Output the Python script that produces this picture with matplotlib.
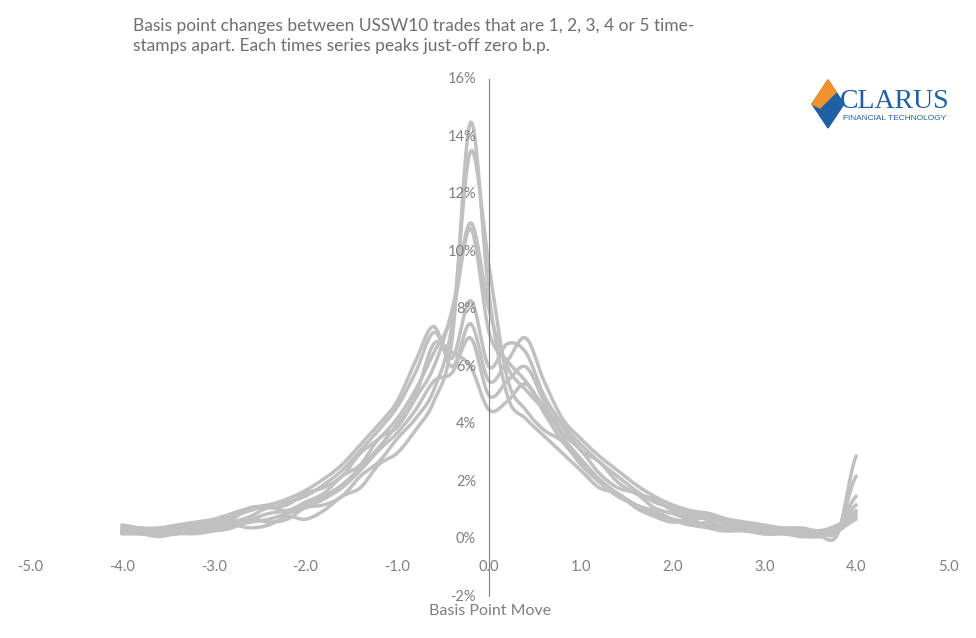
import numpy as np
import matplotlib
matplotlib.use("Agg")
import matplotlib.pyplot as plt
from matplotlib.patches import Polygon

x = [round(-4.0 + 0.2 * i, 1) for i in range(41)]

s1 = [0.2,0.2,0.1,0.2,0.2,0.3,0.5,0.4,0.5,0.8,0.7,1.0,1.5,1.8,2.6,3.0,3.8,4.8,7.0,14.5,8.5,5.0,4.2,3.6,3.0,2.4,1.8,1.6,1.1,0.8,0.6,0.7,0.4,0.3,0.5,0.2,0.2,0.1,0.1,0.2,2.9]
s2 = [0.3,0.2,0.2,0.2,0.3,0.3,0.4,0.7,0.6,0.7,1.1,1.2,1.5,2.2,2.7,3.5,4.2,5.2,7.5,13.5,9.5,5.6,4.5,3.8,3.4,2.6,2.0,1.6,1.2,1.0,0.7,0.5,0.6,0.4,0.3,0.2,0.3,0.2,0.2,0.3,2.2]
s3 = [0.3,0.3,0.2,0.3,0.4,0.5,0.6,0.8,1.1,1.0,1.3,1.6,2.2,2.6,3.5,3.9,4.9,6.0,8.0,11.0,8.0,6.0,5.2,4.5,3.7,3.1,2.3,1.8,1.6,1.1,0.9,0.7,0.8,0.5,0.4,0.3,0.3,0.2,0.2,0.4,1.5]
s4 = [0.4,0.3,0.3,0.3,0.4,0.6,0.7,1.1,1.1,1.2,1.6,1.8,2.2,3.0,3.5,4.2,5.2,6.5,7.8,10.8,7.2,6.2,5.5,4.6,3.9,3.1,2.7,2.0,1.6,1.4,1.0,0.8,0.7,0.6,0.5,0.4,0.3,0.3,0.3,0.4,1.2]
s5 = [0.4,0.4,0.3,0.4,0.5,0.6,0.8,1.0,1.2,1.3,1.5,1.9,2.4,3.1,3.8,4.6,5.8,7.2,6.3,8.3,6.0,6.8,6.5,5.0,4.0,3.3,2.7,2.2,1.7,1.3,1.1,0.9,0.8,0.7,0.5,0.4,0.4,0.3,0.3,0.4,0.9]
s6 = [0.5,0.4,0.4,0.5,0.6,0.7,0.9,1.1,1.2,1.4,1.7,2.1,2.6,3.3,4.0,4.8,6.2,7.4,6.0,7.5,5.5,6.2,7.0,5.5,4.2,3.5,2.9,2.4,1.9,1.5,1.2,1.0,0.9,0.7,0.6,0.5,0.4,0.4,0.3,0.5,0.8]
s7 = [0.2,0.2,0.2,0.2,0.3,0.4,0.5,0.6,0.7,0.9,1.1,1.4,1.8,2.4,3.1,3.7,4.5,5.5,5.8,7.0,5.0,5.5,6.0,4.8,3.6,2.8,2.1,1.6,1.2,0.9,0.7,0.5,0.4,0.3,0.3,0.2,0.2,0.2,0.2,0.3,1.0]
s8 = [0.3,0.3,0.2,0.3,0.4,0.5,0.6,0.7,0.9,1.0,1.2,1.5,1.9,2.5,3.2,4.0,5.0,6.8,6.5,6.0,4.5,4.8,5.4,4.4,3.4,2.7,2.0,1.5,1.2,0.9,0.7,0.6,0.5,0.4,0.3,0.3,0.2,0.2,0.2,0.3,0.7]
series = [s1, s2, s3, s4, s5, s6, s7, s8]

xticks = [-5.0, -4.0, -3.0, -2.0, -1.0, 0.0, 1.0, 2.0, 3.0, 4.0, 5.0]
yticks = [-2, 0, 2, 4, 6, 8, 10, 12, 14, 16]

def catmull(xs, ys, n=12):
    xs = np.asarray(xs, float); ys = np.asarray(ys, float)
    px = np.concatenate([[2*xs[0]-xs[1]], xs, [2*xs[-1]-xs[-2]]])
    py = np.concatenate([[ys[0]], ys, [ys[-1]]])
    ox, oy = [], []
    for i in range(1, len(xs)):
        t = np.linspace(0, 1, n, endpoint=False)
        for arr, out in ((px, ox), (py, oy)):
            p0, p1, p2, p3 = arr[i-1], arr[i], arr[i+1], arr[i+2]
            out.extend(0.5*((2*p1) + (-p0+p2)*t + (2*p0-5*p1+4*p2-p3)*t**2 + (-p0+3*p1-3*p2+p3)*t**3))
    ox.append(xs[-1]); oy.append(ys[-1])
    return np.array(ox), np.array(oy)

fig = plt.figure(figsize=(9.76, 6.38), dpi=100)
ax = fig.add_axes([0.0307, 0.0643, 0.9406, 0.8119])
for s in series:
    cx, cy = catmull(x, s)
    ax.plot(cx, cy, color="#c0c0c0", lw=2.5, solid_capstyle="round")
ax.set_xlim(-5, 5); ax.set_ylim(-2, 16)
ax.axis("off")
ax.axvline(0, color="#808080", lw=0.8)
grey = "#7f7f7f"
for v in yticks:
    ax.text(-0.14, v, f"{v}%", ha="right", va="center", color=grey, fontsize=10.5, family="Lato")
for v in xticks:
    ax.text(v, -0.95, f"{v:.1f}", ha="center", va="center", color=grey, fontsize=10.5, family="Lato")
fig.text(490/976, 1-611/638, "Basis Point Move", ha="center", va="center", color=grey, fontsize=11.5, family="Lato")
fig.text(133/976, 1-36/638, "Basis point changes between USSW10 trades that are 1, 2, 3, 4 or 5 time-\nstamps apart. Each times series peaks just-off zero b.p.",
         ha="left", va="center", color="#6e6e6e", fontsize=12.5, family="Lato", linespacing=1.3)
# logo
lx = fig.add_axes([0, 0, 1, 1], facecolor="none"); lx.axis("off"); lx.set_xlim(0, 976); lx.set_ylim(638, 0)
lx.add_patch(Polygon([[828, 80], [844, 104], [828, 128], [812, 104]], closed=True, color="#1f5fa3"))
lx.add_patch(Polygon([[828, 80], [836, 92], [820, 108], [812, 104]], closed=True, color="#f0932b"))
lx.text(895, 101, "CLARUS", ha="center", va="center", color="#1f5fa3", fontsize=20, family="Liberation Serif")
lx.text(895, 119, "FINANCIAL TECHNOLOGY", ha="center", va="center", color="#1f5fa3", fontsize=6, family="Liberation Sans")
fig.savefig("out.png", dpi=100)
